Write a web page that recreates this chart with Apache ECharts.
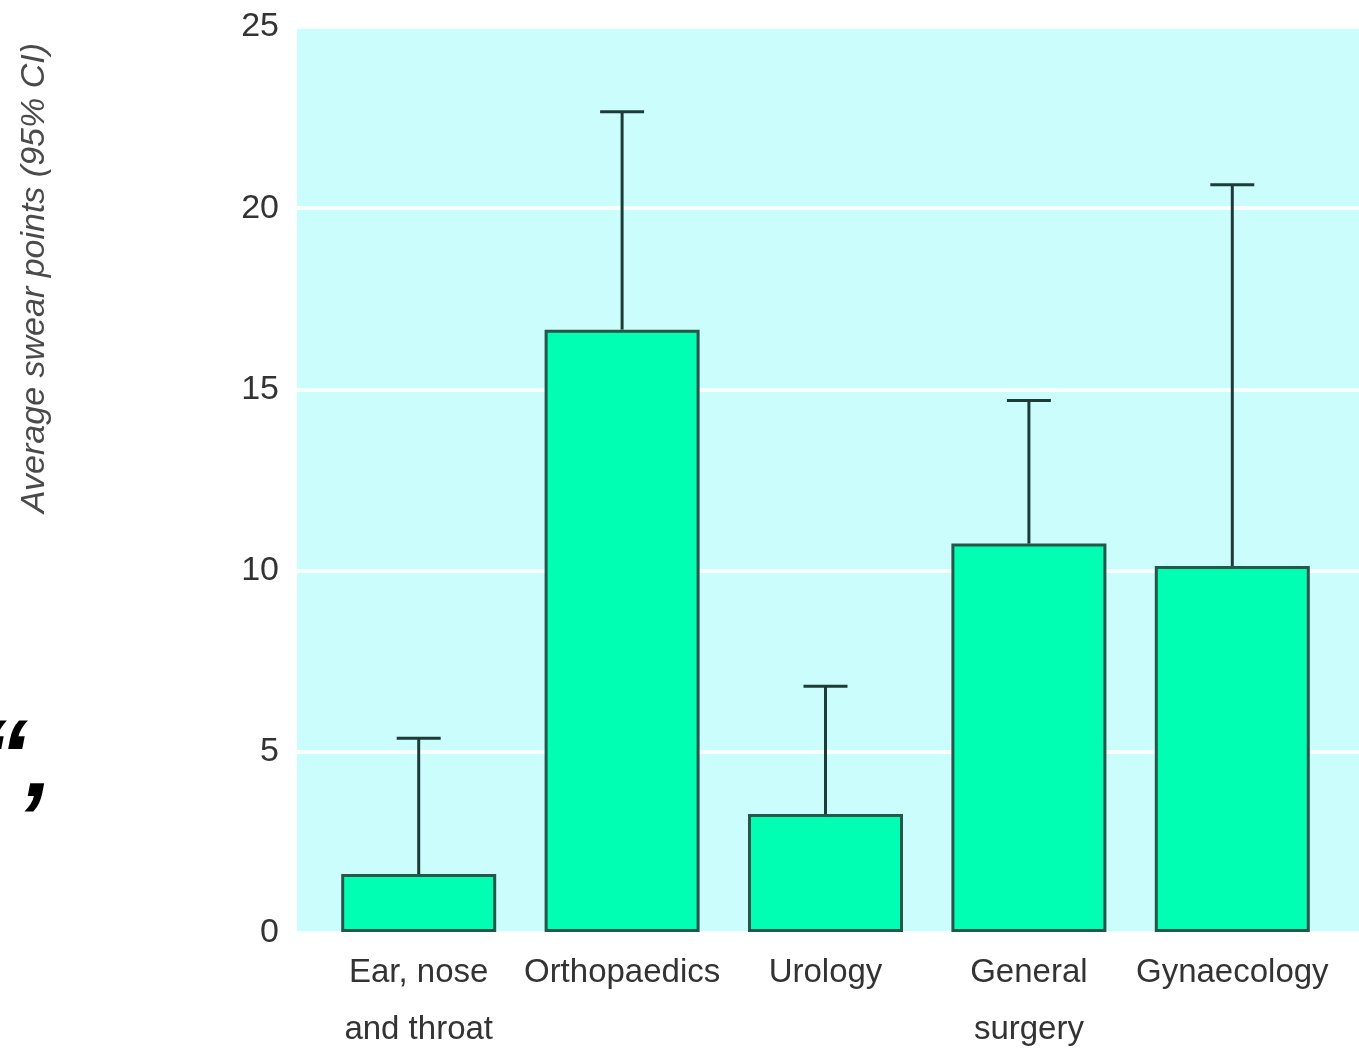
<!DOCTYPE html>
<html>
<head>
<meta charset="utf-8">
<script src="https://cdn.jsdelivr.net/npm/echarts@6/dist/echarts.min.js"></script>
<style>html,body{margin:0;padding:0;background:#fff;}#c{width:1359px;height:1058px;}</style>
</head>
<body>
<div id="c"></div>
<script>
const categories = ['Ear, nose\nand throat', 'Orthopaedics', 'Urology', 'General\nsurgery', 'Gynaecology'];
const means = [1.6, 16.64, 3.26, 10.73, 10.11];
const upperCI = [5.35, 22.66, 6.79, 14.68, 20.64];
const yTicks = [0, 5, 10, 15, 20, 25];
const yAxisTitle = 'Average swear points (95% CI)';

const FONT = '"Liberation Sans", Arial, Helvetica, sans-serif';
const chart = echarts.init(document.getElementById('c'), null, {renderer: 'canvas'});

const errData = categories.map((c, i) => [i, means[i], upperCI[i]]);

chart.setOption({
  backgroundColor: '#ffffff',
  animation: false,
  grid: [
    {left: 297, right: 0, top: 27, bottom: 125, show: true, backgroundColor: '#cbfdfd', borderWidth: 0},
    {left: 317, right: 25, top: 27, bottom: 125}
  ],
  xAxis: [
    {type: 'value', gridIndex: 0, show: false, min: 0, max: 1},
    {type: 'category', gridIndex: 1, data: categories,
     axisLine: {show: false}, axisTick: {show: false}, splitLine: {show: false},
     axisLabel: {fontFamily: FONT, fontSize: 33, color: '#333', lineHeight: 57, margin: 12, interval: 0}}
  ],
  yAxis: [
    {type: 'value', gridIndex: 0, min: yTicks[0], max: yTicks[yTicks.length - 1], interval: 5,
     axisLine: {show: false}, axisTick: {show: false},
     axisLabel: {fontFamily: FONT, fontSize: 34, color: '#333', margin: 18},
     splitLine: {show: true, lineStyle: {color: 'rgba(255,255,255,0.85)', width: 4}}},
    {type: 'value', gridIndex: 1, min: yTicks[0], max: yTicks[yTicks.length - 1], interval: 5, show: false,
     splitLine: {show: false}}
  ],
  graphic: [
    {type: 'text', x: 35, y: 278, rotation: Math.PI / 2,
     style: {text: yAxisTitle, fontFamily: FONT, fontStyle: 'italic', fontSize: 34, fill: '#4a4a4a',
             textAlign: 'center', textVerticalAlign: 'middle'}},
    {type: 'text', x: 28, y: 762,
     style: {text: '\u201C', fontFamily: FONT, fontStyle: 'italic', fontWeight: 'bold',
             fontSize: 100, fill: '#000', textAlign: 'right', textVerticalAlign: 'middle'}},
    {type: 'text', x: 43, y: 824,
     style: {text: '\u2019', fontFamily: FONT, fontStyle: 'italic', fontWeight: 'bold',
             fontSize: 100, fill: '#000', textAlign: 'right', textVerticalAlign: 'middle'}}
  ],
  series: [
    {type: 'bar', xAxisIndex: 1, yAxisIndex: 1, data: means, barWidth: 155,
     itemStyle: {color: '#00ffb2', borderColor: '#24564a', borderWidth: 3}},
    {type: 'custom', xAxisIndex: 1, yAxisIndex: 1, data: errData, z: 5,
     renderItem: function (params, api) {
       const x = api.value(0);
       const lo = api.coord([x, api.value(1)]);
       const hi = api.coord([x, api.value(2)]);
       const half = 22;
       const st = {stroke: '#1d3b38', lineWidth: 3};
       return {type: 'group', children: [
         {type: 'line', shape: {x1: lo[0], y1: lo[1], x2: hi[0], y2: hi[1]}, style: st},
         {type: 'line', shape: {x1: hi[0] - half, y1: hi[1], x2: hi[0] + half, y2: hi[1]}, style: st}
       ]};
     }}
  ]
});
</script>
</body>
</html>
